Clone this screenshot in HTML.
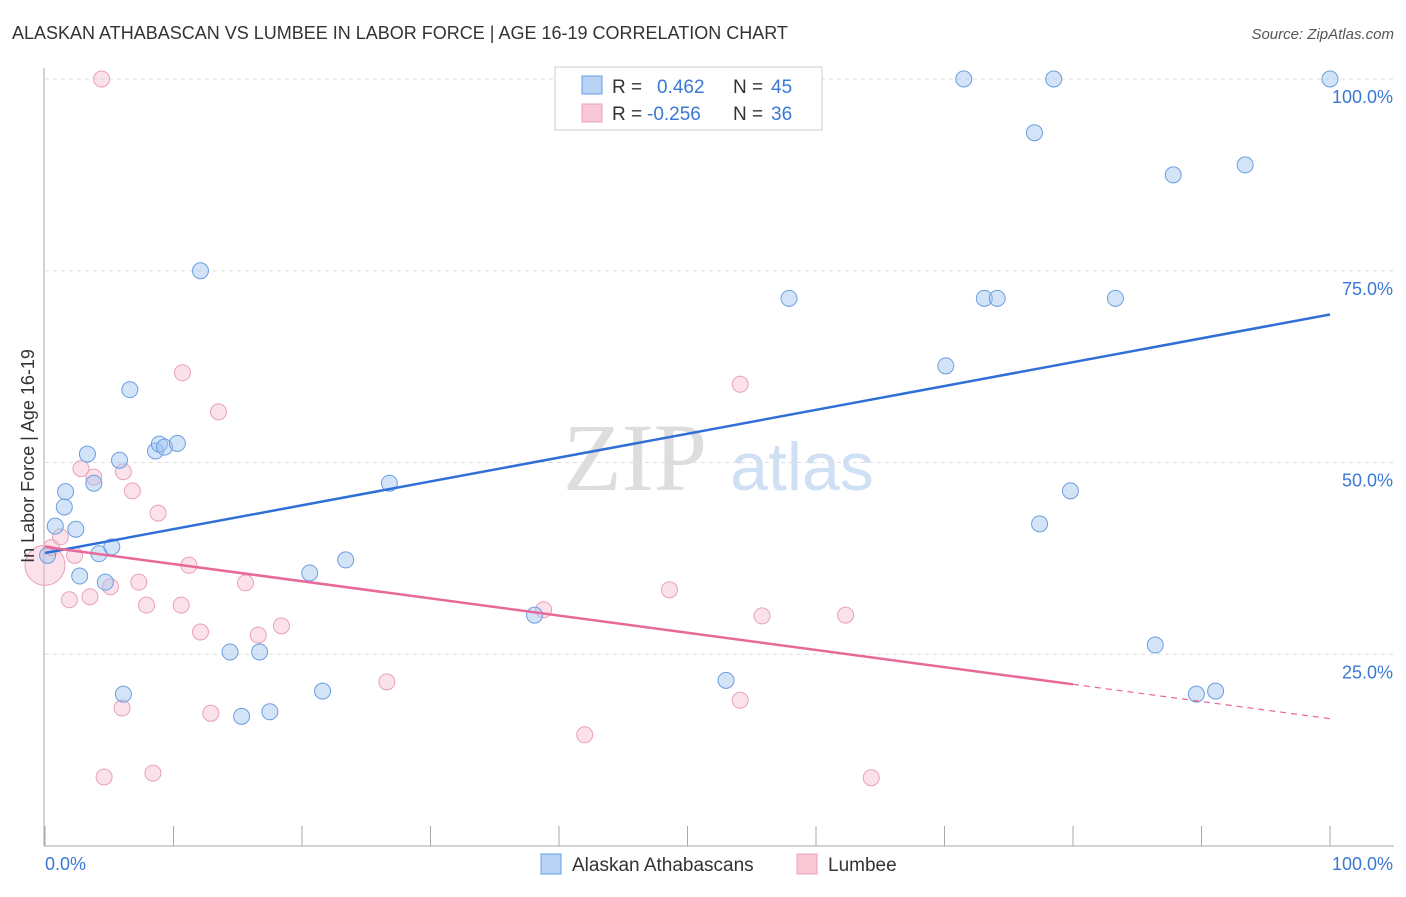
<!DOCTYPE html>
<html><head><meta charset="utf-8"><style>
body{margin:0;background:#fff;font-family:"Liberation Sans",sans-serif}
</style></head><body>
<svg width="1406" height="892" xmlns="http://www.w3.org/2000/svg" id="svg" font-family="Liberation Sans, sans-serif">
<text x="12" y="39" font-size="18" fill="#333">ALASKAN ATHABASCAN VS LUMBEE IN LABOR FORCE | AGE 16-19 CORRELATION CHART</text>
<text x="1394" y="39" font-size="15" fill="#555" font-style="italic" text-anchor="end">Source: ZipAtlas.com</text>
<text x="635" y="490" font-size="96" fill="#ddd" font-family="Liberation Serif, serif" text-anchor="middle">ZIP</text>
<text x="802" y="490" font-size="68" fill="#cfe0f5" text-anchor="middle">atlas</text>
<g id="grid"></g>
<g id="axes"></g>
<g id="marks"></g>
<text transform="translate(34,456) rotate(-90)" font-size="18" fill="#333" text-anchor="middle">In Labor Force | Age 16-19</text>
<g>
<rect x="555" y="67" width="267" height="63" fill="#fff" stroke="#ccc"/>
<rect x="582" y="76" width="20" height="18" fill="#b8d2f5" stroke="#6a9ee0"/>
<text x="612" y="93" font-size="19" fill="#333">R =</text><text x="657" y="93" font-size="19" fill="#3a78d6">0.462</text>
<text x="733" y="93" font-size="19" fill="#333">N =</text><text x="771" y="93" font-size="19" fill="#3a78d6">45</text>
<rect x="582" y="104" width="20" height="18" fill="#f9c8d6" stroke="#eaa0b8"/>
<text x="612" y="120" font-size="19" fill="#333">R =</text><text x="647" y="120" font-size="19" fill="#3a78d6">-0.256</text>
<text x="733" y="120" font-size="19" fill="#333">N =</text><text x="771" y="120" font-size="19" fill="#3a78d6">36</text>
</g>
<g>
<rect x="541" y="854" width="20" height="20" fill="#b8d2f5" stroke="#6a9ee0"/>
<text x="572" y="871" font-size="19" fill="#333">Alaskan Athabascans</text>
<rect x="797" y="854" width="20" height="20" fill="#f9c8d6" stroke="#eaa0b8"/>
<text x="828" y="871" font-size="19" fill="#333">Lumbee</text>
</g>
</svg>
<script>
const blueX=[0.2,0.8,1.5,1.6,2.4,2.7,3.3,3.8,4.2,4.7,5.2,5.8,6.1,6.6,8.6,8.9,9.3,10.3,12.1,14.4,15.3,16.7,17.5,20.6,21.6,23.4,26.8,38.1,53.0,57.9,70.1,71.5,73.1,74.1,77.0,77.4,78.5,79.8,83.3,86.4,87.8,89.6,91.1,93.4,100];
const blueY=[37.9,41.7,44.2,46.2,41.3,35.2,51.1,47.3,38.1,34.4,39.0,50.3,19.8,59.5,51.5,52.4,52.0,52.5,75.0,25.3,16.9,25.3,17.5,35.6,20.2,37.3,47.3,30.1,21.6,71.4,62.6,100,71.4,71.4,93.0,42.0,100,46.3,71.4,26.2,87.5,19.8,20.2,88.8,100];
const pinkX=[0,0.5,1.2,1.9,2.3,2.8,3.5,3.8,4.4,4.6,5.1,6.0,6.1,6.8,7.3,7.9,8.4,8.8,10.6,10.7,11.2,12.1,12.9,13.5,15.6,16.6,18.4,26.6,38.8,42.0,48.6,54.1,54.1,55.8,62.3,64.3];
const pinkY=[36.6,38.9,40.3,32.1,37.9,49.2,32.5,48.1,100,9.0,33.8,18.0,48.8,46.3,34.4,31.4,9.5,43.4,31.4,61.7,36.6,27.9,17.3,56.6,34.3,27.5,28.7,21.4,30.8,14.5,33.4,60.2,19.0,30.0,30.1,8.9];
const blueTrend=[38.2,69.3];
const pinkTrend=[39.0,16.6];
const pinkSolidEnd=80;
const yTicks=[25,50,75,100];
const yTickLabels=["25.0%","50.0%","75.0%","100.0%"];
const xTicks=[0,10,20,30,40,50,60,70,80,90,100];
const NS="http://www.w3.org/2000/svg";
const X=v=>45+v*12.85, Y=v=>846-v*7.67;
function mk(p,t,a){const e=document.createElementNS(NS,t);for(const k in a)e.setAttribute(k,a[k]);document.getElementById(p).appendChild(e);return e;}
yTicks.forEach((t,i)=>{
 const l=mk('grid','line',{x1:45,x2:1394,y1:Y(t),y2:Y(t),stroke:'#ddd','stroke-dasharray':'4,4'});
 
 
 const tx=mk('axes','text',{x:1393,y:Y(t)+24,'font-size':18,fill:'#3a78d6','text-anchor':'end'});
 tx.textContent=yTickLabels[i];
 
 
});
const ax=mk('axes','line',{x1:44,x2:44,y1:68,y2:846,stroke:'#aaa'});


const bx=mk('axes','line',{x1:44,x2:1394,y1:846,y2:846,stroke:'#aaa'});


xTicks.forEach(t=>{
 const l=mk('axes','line',{x1:X(t),x2:X(t),y1:826,y2:846,stroke:'#aaa'});
 
 
});
const xl0=mk('axes','text',{x:45,y:870,'font-size':18,fill:'#3a78d6'});xl0.textContent='0.0%';


const xl1=mk('axes','text',{x:1393,y:870,'font-size':18,fill:'#3a78d6','text-anchor':'end'});xl1.textContent='100.0%';


pinkX.forEach((x,i)=>{
 const c=mk('marks','circle',{cx:X(x),cy:Y(pinkY[i]),r:(i===0?20:8),fill:'rgba(246,182,202,0.4)',stroke:'#eaa0b8','stroke-width':1});
 
 
});
blueX.forEach((x,i)=>{
 const c=mk('marks','circle',{cx:X(x),cy:Y(blueY[i]),r:8,fill:'rgba(160,196,240,0.45)',stroke:'#6a9ee0','stroke-width':1});
 
 
});
const bt=mk('marks','line',{x1:X(0),y1:Y(blueTrend[0]),x2:X(100),y2:Y(blueTrend[1]),stroke:'#2f6fd6','stroke-width':2.5});


const pm=pinkTrend[0]+(pinkTrend[1]-pinkTrend[0])*pinkSolidEnd/100;
const pt=mk('marks','line',{x1:X(0),y1:Y(pinkTrend[0]),x2:X(pinkSolidEnd),y2:Y(pm),stroke:'#e8689a','stroke-width':2.5});


const pd=mk('marks','line',{x1:X(pinkSolidEnd),y1:Y(pm),x2:X(100),y2:Y(pinkTrend[1]),stroke:'#e8689a','stroke-width':1.2,'stroke-dasharray':'6,5'});


</script>
</body></html>
